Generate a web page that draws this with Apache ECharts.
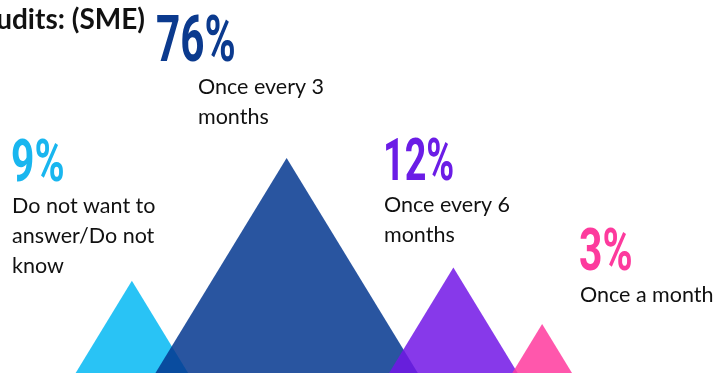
<!DOCTYPE html>
<html>
<head>
<meta charset="utf-8">
<script src="https://cdn.jsdelivr.net/npm/echarts@6/dist/echarts.min.js"></script>
<style>
  html, body { margin: 0; padding: 0; background: #ffffff; }
  #chart { width: 717px; height: 373px; }
</style>
</head>
<body>
<div id="chart"></div>
<script>
// Audit frequency shares (SME)
const categories = ['Do not want to answer/Do not know', 'Once every 3 months', 'Once every 6 months', 'Once a month'];
const shares = [9, 76, 12, 3];
const descLines = [
  ['Do not want to', 'answer/Do not', 'know'],
  ['Once every 3', 'months'],
  ['Once every 6', 'months'],
  ['Once a month']
];
const titleText = 'udits: (SME)';

// Styling
const triColors = ['#03b9f3', '#03378f', '#7216e6', '#ff399d'];
const numColors = ['#19b6ef', '#0b3a8e', '#6b1de6', '#fd3a9d'];
const triOpacity = 0.85;
const triAspect = 1.22;       // base width / height of every triangle
const baseDrop = 100;         // triangles stand on a base below the visible area
const triShiftX = [-12, 3, 30, -21];
const numFont = 'Roboto, "DejaVu Sans", sans-serif';

// Compressed power scale so small shares stay visible next to the large one
function triHeight(v) { return 115.5 * Math.pow(v, 0.2317); }

// Text block layout (px)
const labelLayout = [
  { numX: 11,  numY: 166,   numSize: 60, numScale: 0.68, textX: 12,  textY: 206.5 },
  { numX: 156, numY: 44.5,  numSize: 64, numScale: 0.66, textX: 198, textY: 87.5 },
  { numX: 383, numY: 165,   numSize: 60, numScale: 0.63, textX: 384, textY: 205.5 },
  { numX: 579, numY: 254.5, numSize: 60, numScale: 0.68, textX: 580, textY: 295.5 }
];

const chart = echarts.init(document.getElementById('chart'), null, { renderer: 'canvas' });

const graphics = [{
  type: 'text', x: 145, y: 20, z: 10,
  style: {
    text: titleText, font: 'bold 28px Lato', fill: '#111111',
    align: 'right', textAlign: 'right', verticalAlign: 'middle', textVerticalAlign: 'middle'
  }
}];
shares.forEach(function (v, i) {
  const L = labelLayout[i];
  graphics.push({
    type: 'text', x: L.numX, y: L.numY, scaleX: L.numScale, z: 10,
    style: {
      text: v + '%', font: 'bold ' + L.numSize + 'px ' + numFont, fill: numColors[i],
      align: 'left', textAlign: 'left', verticalAlign: 'middle', textVerticalAlign: 'middle'
    }
  });
  graphics.push({
    type: 'text', x: L.textX, y: L.textY - 15, z: 10,
    style: {
      text: descLines[i].join('\n'), font: '21.5px Lato', lineHeight: 30, fill: '#111111',
      align: 'left', textAlign: 'left', verticalAlign: 'top', textVerticalAlign: 'top'
    }
  });
});

chart.setOption({
  animation: false,
  backgroundColor: '#ffffff',
  grid: { left: 74, right: 84, top: 0, bottom: 0 },
  xAxis: { type: 'category', data: categories, show: false },
  yAxis: { type: 'value', min: 0, max: 100, show: false },
  graphic: graphics,
  series: [{
    type: 'pictorialBar',
    symbol: 'triangle',
    symbolPosition: 'start',
    silent: true,
    data: shares.map(function (v, i) {
      const h = triHeight(v);
      return {
        value: v,
        symbolSize: [h * triAspect, h],
        symbolOffset: [triShiftX[i], baseDrop],
        itemStyle: { color: triColors[i], opacity: triOpacity }
      };
    })
  }]
});
</script>
</body>
</html>
